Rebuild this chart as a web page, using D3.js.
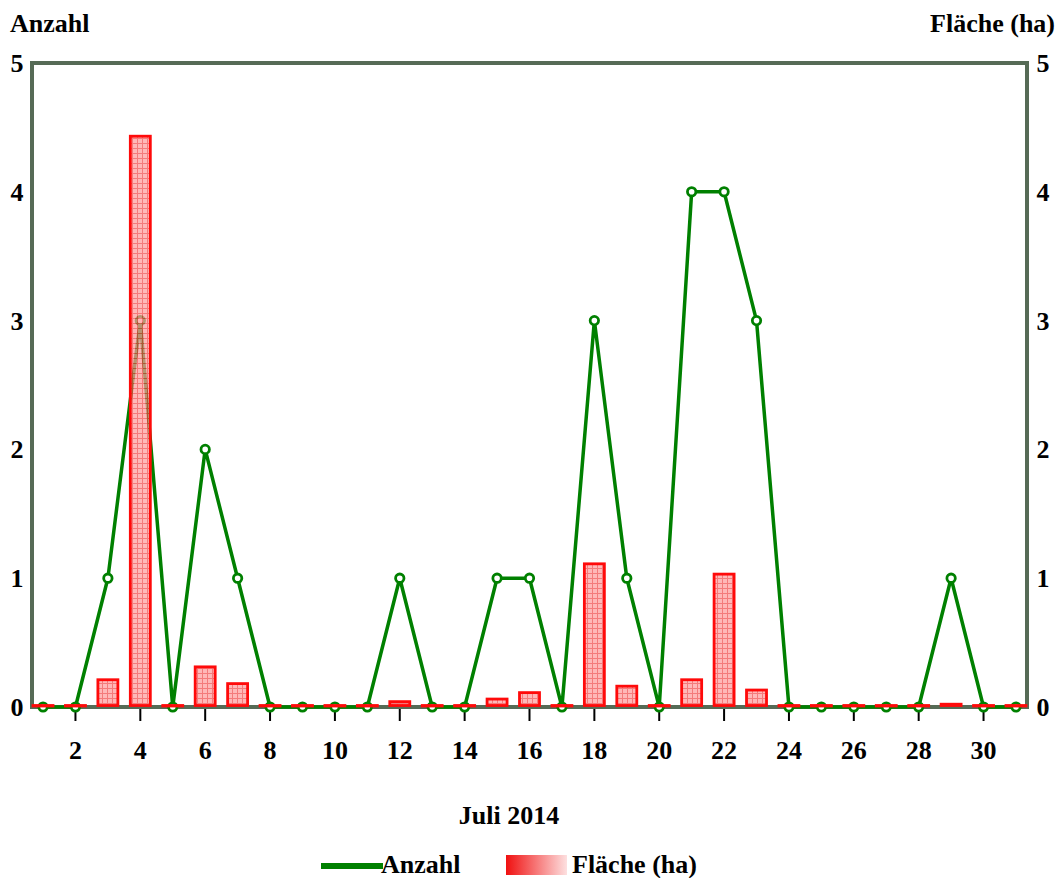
<!DOCTYPE html>
<html>
<head>
<meta charset="utf-8">
<script src="https://cdn.jsdelivr.net/npm/d3@7"></script>
<style>
  body { margin: 0; background: #fff; }
  text { font-family: "Liberation Serif", "Times New Roman", serif; font-weight: bold; }
</style>
</head>
<body>
<div id="chart"></div>
<script>
// days of July 2014
var days = d3.range(1, 32);
// number of fires per day
var anzahl = [0,0,1,3,0,2,1,0,0,0,0,1,0,0,1,1,0,3,1,0,4,4,3,0,0,0,0,0,1,0,0];
// burnt area (ha) per day
var flaeche = [0,0,0.2,4.42,0,0.3,0.17,0,0,0,0,0.03,0,0,0.05,0.1,0,1.1,0.15,0,0.2,1.02,0.12,0,0,0,0,0,0.01,0,0];
var xTicks = [2,4,6,8,10,12,14,16,18,20,22,24,26,28,30];
var yTicks = [0,1,2,3,4,5];

var W = 1058, H = 878;
var margin = { top: 63, left: 32, right: 31, bottom: 171 };
var width = W - margin.left - margin.right,
    height = H - margin.top - margin.bottom;

var svg = d3.select("#chart").append("svg")
  .attr("width", W).attr("height", H);

var defs = svg.append("defs");
var pat = defs.append("pattern")
  .attr("id", "grid")
  .attr("patternUnits", "userSpaceOnUse")
  .attr("width", 5).attr("height", 5);
pat.append("rect").attr("width", 5).attr("height", 5).attr("fill", "#ff9c9c");
pat.append("path").attr("d", "M0,0.5H5M0.5,0V5")
  .attr("stroke", "#f04848").attr("stroke-width", 1);

var grad = defs.append("linearGradient").attr("id", "leg");
grad.append("stop").attr("offset", "0%").attr("stop-color", "#f01010");
grad.append("stop").attr("offset", "100%").attr("stop-color", "#fde0e0");

var g = svg.append("g")
  .attr("transform", "translate(" + margin.left + "," + margin.top + ")");

var xScale = d3.scaleLinear().domain([0.66, 31.34]).range([0, width]);
var yScale = d3.scaleLinear().domain([0, 5]).range([height, 0]);
var y2Scale = d3.scaleLinear().domain([0, 5]).range([height, 0]);

// frame
g.append("rect")
  .attr("x", 0).attr("y", 0).attr("width", width).attr("height", height)
  .attr("fill", "none").attr("stroke", "#566b56").attr("stroke-width", 4);

// bottom ticks
g.selectAll(".xt").data(xTicks).enter().append("line")
  .attr("x1", d => xScale(d)).attr("x2", d => xScale(d))
  .attr("y1", height + 2).attr("y2", height + 14)
  .attr("stroke", "#000").attr("stroke-width", 2);
g.selectAll(".xl").data(xTicks).enter().append("text")
  .attr("x", d => xScale(d)).attr("y", height + 52)
  .attr("text-anchor", "middle").attr("font-size", 26)
  .text(d => d);

// left / right labels
g.selectAll(".yl").data(yTicks).enter().append("text")
  .attr("x", -15).attr("y", d => yScale(d) + 9)
  .attr("text-anchor", "middle").attr("font-size", 26)
  .text(d => d);
g.selectAll(".yr").data(yTicks).enter().append("text")
  .attr("x", width + 16).attr("y", d => y2Scale(d) + 9)
  .attr("text-anchor", "middle").attr("font-size", 26)
  .text(d => d);

// Anzahl line
var line = d3.line().x((d, i) => xScale(days[i])).y(d => yScale(d));
g.append("path").datum(anzahl)
  .attr("d", line).attr("fill", "none")
  .attr("stroke", "#008000").attr("stroke-width", 3.5)
  .attr("stroke-linejoin", "round");
g.selectAll(".pt").data(anzahl).enter().append("circle")
  .attr("cx", (d, i) => xScale(days[i])).attr("cy", d => yScale(d))
  .attr("r", 4.2).attr("fill", "#fff")
  .attr("stroke", "#008000").attr("stroke-width", 2.8);

// Fläche bars (zero values still show as a red dash)
var bw = 20;
g.selectAll(".bar").data(flaeche).enter().append("rect")
  .attr("x", (d, i) => xScale(days[i]) - bw / 2)
  .attr("y", d => y2Scale(d) - 1.5)
  .attr("width", bw)
  .attr("height", d => Math.max(height - y2Scale(d), 0.5))
  .attr("fill", "url(#grid)").attr("fill-opacity", 0.72)
  .attr("stroke", "#ff0a0a").attr("stroke-width", 2.8);

// titles
svg.append("text").attr("x", 10).attr("y", 32).attr("font-size", 26).text("Anzahl");
svg.append("text").attr("x", 1055).attr("y", 32).attr("text-anchor", "end")
  .attr("font-size", 26).text("Fläche (ha)");
svg.append("text").attr("x", 509).attr("y", 824).attr("text-anchor", "middle")
  .attr("font-size", 26).text("Juli 2014");

// legend
svg.append("line").attr("x1", 321).attr("x2", 383).attr("y1", 866).attr("y2", 866)
  .attr("stroke", "#008000").attr("stroke-width", 6);
svg.append("text").attr("x", 381).attr("y", 873).attr("font-size", 26).text("Anzahl");
svg.append("rect").attr("x", 506).attr("y", 855).attr("width", 61).attr("height", 20)
  .attr("fill", "url(#leg)");
svg.append("text").attr("x", 572).attr("y", 873).attr("font-size", 26).text("Fläche (ha)");
</script>
</body>
</html>
